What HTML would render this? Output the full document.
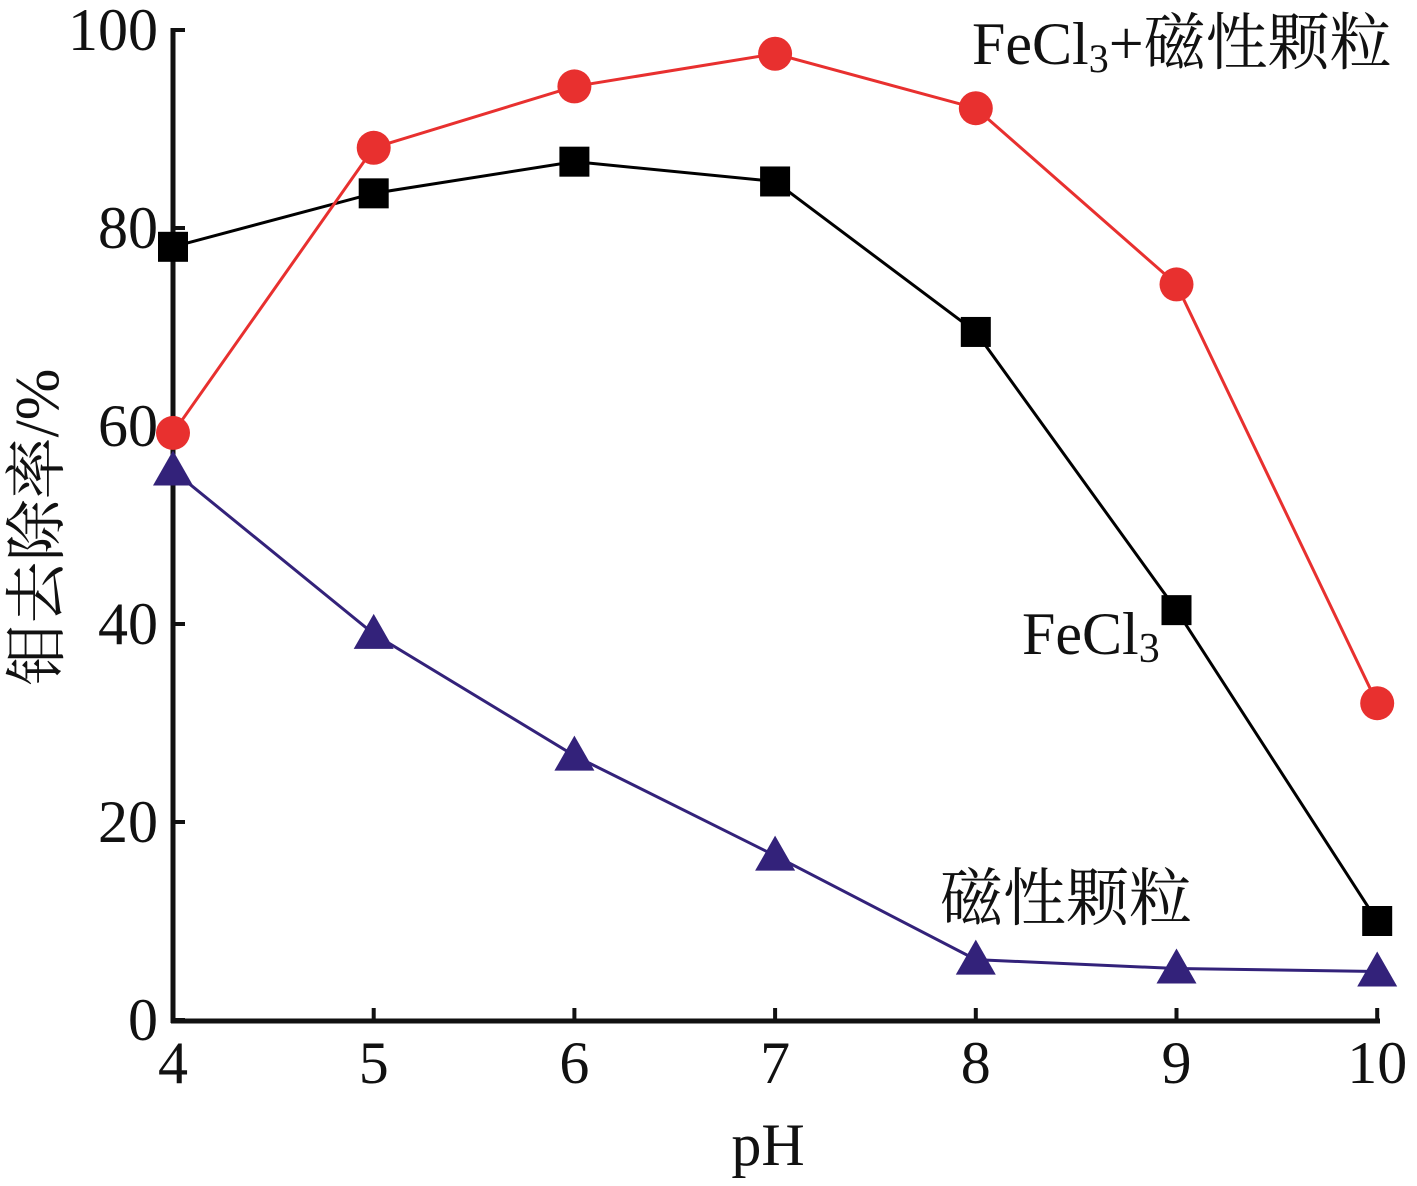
<!DOCTYPE html>
<html><head><meta charset="utf-8"><style>
html,body{margin:0;padding:0;background:#fff;}
svg text{font-family:"Liberation Serif","Noto Serif CJK SC",serif;}
</style></head><body>
<svg id="chart" width="1417" height="1181" xmlns="http://www.w3.org/2000/svg"></svg>
<script>
const categories=[4,5,6,7,8,9,10];
const mixSeries=[59.3,88.1,94.3,97.6,92.1,74.3,32.0];
const fecl3Series=[78.1,83.5,86.7,84.7,69.5,41.4,10.0];
const magSeries=[55.5,39.0,26.7,16.6,6.1,5.2,4.9];
const yTicks=[0,20,40,60,80,100];
const NS="http://www.w3.org/2000/svg";
const svg=document.getElementById('chart');
const X=v=>173+(v-4)*200.7;
const Y=v=>1020-v*9.9;
function mk(tag,attrs,parent){const e=document.createElementNS(NS,tag);for(const k in attrs)e.setAttribute(k,attrs[k]);(parent||svg).appendChild(e);return e;}
const axes=mk('g',{});


mk('line',{x1:173,y1:28,x2:173,y2:1023,stroke:'#111','stroke-width':5},axes);
mk('line',{x1:171,y1:1021,x2:1380,y2:1021,stroke:'#111','stroke-width':5},axes);
yTicks.forEach(t=>{
 const tk=mk('line',{x1:173,y1:Y(t),x2:185,y2:Y(t),stroke:'#111','stroke-width':4},axes);
 
 
 const tx=mk('text',{x:158,y:Y(t)+20,'text-anchor':'end','font-size':60,fill:'#111'},axes);
 tx.textContent=t;
 
 
});
categories.forEach(c=>{
 const tk=mk('line',{x1:X(c),y1:1021,x2:X(c),y2:1008,stroke:'#111','stroke-width':4},axes);
 
 
 const tx=mk('text',{x:X(c),y:1083,'text-anchor':'middle','font-size':60,fill:'#111'},axes);
 tx.textContent=c;
 
 
});
const xt=mk('text',{x:768,y:1165,'text-anchor':'middle','font-size':60,fill:'#111'});
xt.textContent='pH';


const yt=mk('text',{x:0,y:0,'text-anchor':'middle','font-size':62,fill:'#111',transform:'translate(58,527) rotate(-90)'});
yt.textContent='钼去除率/%';


function series(vals,color,shape,name){
 const g=mk('g',{});
 
 
 mk('polyline',{points:vals.map((v,i)=>X(categories[i])+','+Y(v)).join(' '),fill:'none',stroke:color,'stroke-width':3},g);
 vals.forEach((v,i)=>{
  const x=X(categories[i]),y=Y(v);let m;
  if(shape==='circle')m=mk('circle',{cx:x,cy:y,r:17,fill:color},g);
  else if(shape==='square')m=mk('rect',{x:x-15,y:y-15,width:30,height:30,fill:color},g);
  else m=mk('polygon',{points:`${x},${y-20} ${x-20},${y+15} ${x+20},${y+15}`,fill:color},g);
  
  
 });
}
series(fecl3Series,'#000','square','fecl3-series');
series(mixSeries,'#e8302f','circle','fecl3-magnetic-series');
series(magSeries,'#33227a','triangle','magnetic-series');
function label(x,y,size,html,name){const t=mk('text',{x:x,y:y,'font-size':size,fill:'#111'});t.innerHTML=html;}
label(972,64,60,'FeCl<tspan font-size="40" dy="8">3</tspan><tspan dy="-8" font-size="62">+磁性颗粒</tspan>','label-fecl3-magnetic');
label(1022,654,60,'FeCl<tspan font-size="42" dy="8">3</tspan>','label-fecl3');
label(940,920,63,'磁性颗粒','label-magnetic');
</script>
</body></html>
